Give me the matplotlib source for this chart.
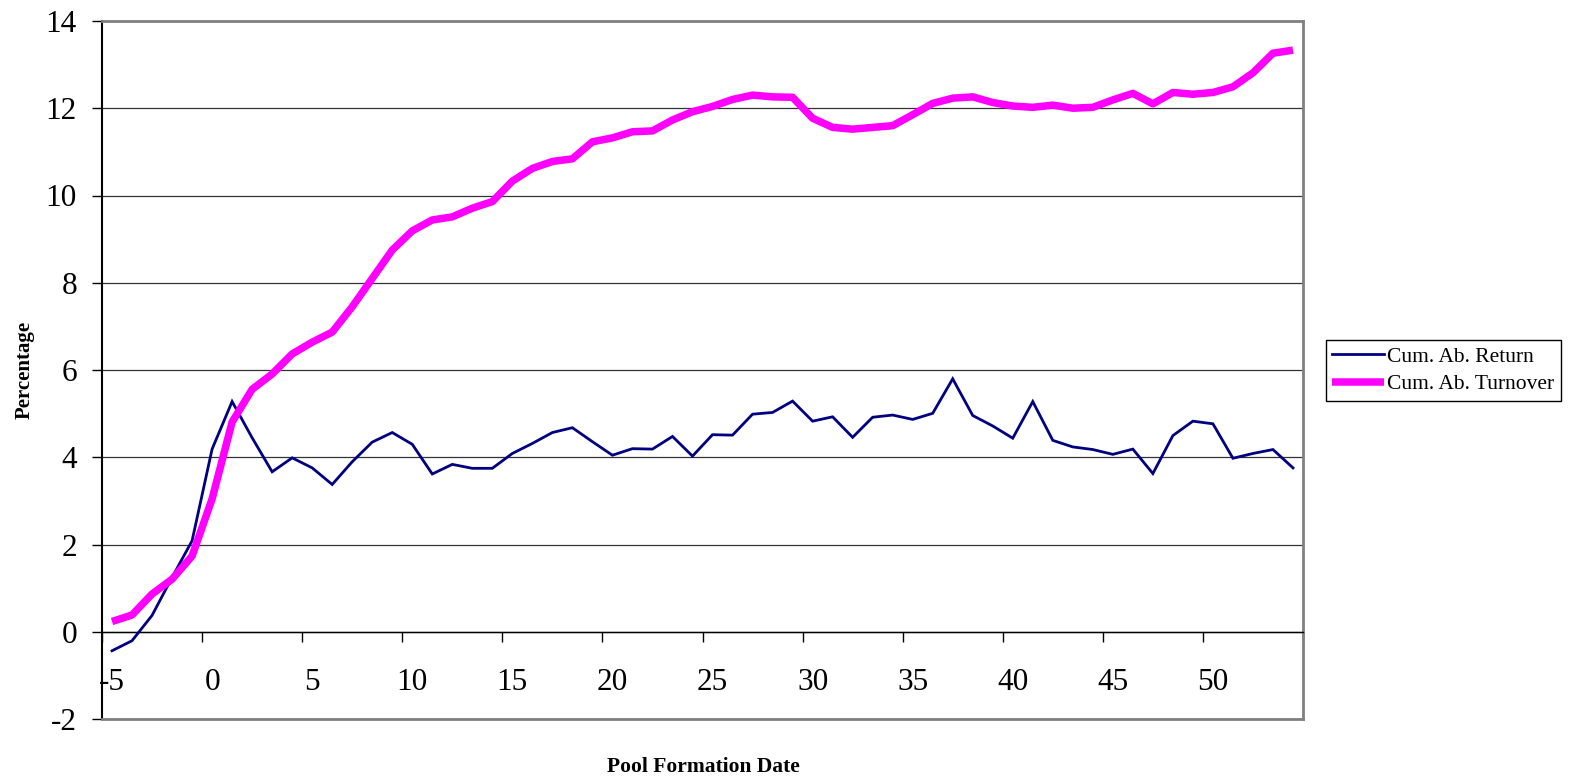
import matplotlib.pyplot as plt
import numpy as np

plt.rcParams['font.family'] = ['Liberation Serif', 'DejaVu Serif']

# event time relative to pool formation
dates = list(range(-5, 55))

cum_ab_return = [
    -0.43, -0.20, 0.38, 1.25, 2.09, 4.19, 5.28, 4.45, 3.67, 3.99,
    3.76, 3.38, 3.90, 4.35, 4.57, 4.30, 3.62, 3.84, 3.75, 3.75,
    4.09, 4.32, 4.57, 4.68, 4.36, 4.05, 4.20, 4.19, 4.48, 4.03,
    4.52, 4.51, 4.99, 5.03, 5.29, 4.83, 4.93, 4.46, 4.92, 4.97,
    4.87, 5.01, 5.80, 4.96, 4.72, 4.44, 5.28, 4.39, 4.24, 4.18,
    4.07, 4.19, 3.63, 4.50, 4.83, 4.77, 3.98, 4.09, 4.18, 3.76,
]

cum_ab_turnover = [
    0.24, 0.39, 0.87, 1.21, 1.74, 3.05, 4.81, 5.56, 5.91, 6.37,
    6.64, 6.87, 7.45, 8.10, 8.75, 9.19, 9.44, 9.51, 9.71, 9.86,
    10.33, 10.62, 10.78, 10.84, 11.23, 11.32, 11.46, 11.48, 11.73, 11.92,
    12.04, 12.20, 12.30, 12.26, 12.25, 11.77, 11.56, 11.52, 11.56, 11.60,
    11.85, 12.11, 12.23, 12.26, 12.13, 12.05, 12.02, 12.07, 12.00, 12.02,
    12.19, 12.34, 12.10, 12.36, 12.32, 12.36, 12.49, 12.81, 13.26, 13.33,
]

x_labels = [-5, 0, 5, 10, 15, 20, 25, 30, 35, 40, 45, 50]
y_ticks = list(range(-2, 15, 2))

W, H = 1570, 781
fig = plt.figure(figsize=(W / 100, H / 100), dpi=100)
ax = fig.add_axes([102 / W, 1 - 719.3 / H, (1303 - 102) / W, (719.3 - 20.9) / H])

ax.plot(dates, cum_ab_return, color='#000080', lw=2.0, label='Cum. Ab. Return',
        solid_joinstyle='miter', zorder=3)
ax.plot(dates, cum_ab_turnover, color='#FF00FF', lw=5.4, label='Cum. Ab. Turnover',
        solid_joinstyle='round', solid_capstyle='butt', zorder=4)

ax.set_xlim(dates[0] - 0.5, dates[-1] + 0.5)
ax.set_ylim(-2, 14)

# category axis crosses the value axis at zero
ax.spines['bottom'].set_position(('data', 0))
ax.spines['bottom'].set_color('black')
ax.spines['bottom'].set_linewidth(1.0)
ax.spines['left'].set_color('black')
ax.spines['left'].set_linewidth(1.5)
for side in ['top', 'right']:
    ax.spines[side].set_color('#808080')
    ax.spines[side].set_linewidth(2.0)
ax.axhline(-2, color='#808080', lw=2.0, clip_on=False, zorder=5)

# tick marks sit between categories, labels on every fifth category
bounds = np.arange(dates[0] - 0.5, dates[-1] + 1, 5)
ax.set_xticks(bounds)
ax.set_xticklabels([])
ax.set_xticks(x_labels, minor=True)
ax.set_xticklabels([str(v) for v in x_labels], minor=True)
ax.tick_params(axis='x', which='major', direction='out', length=7.5, width=1, color='black')
ax.tick_params(axis='x', which='minor', length=0, pad=26, labelsize=22.5)

ax.set_yticks(y_ticks)
ax.set_yticklabels([str(v) for v in y_ticks])
ax.tick_params(axis='y', direction='out', length=7.5, width=1, color='black',
               pad=10.5, labelsize=22.5)

ax.yaxis.grid(True, color='#333333', lw=0.9)
ax.set_axisbelow(True)

fig.text(25 / W, 1 - 370 / H, 'Percentage', rotation=90, ha='center', va='center',
         fontsize=15, fontweight='bold')
fig.text(703 / W, 1 - 767 / H, 'Pool Formation Date', ha='center', va='center',
         fontsize=15.5, fontweight='bold')

leg = fig.legend(loc='center left', bbox_to_anchor=(1326 / W, 1 - 370.5 / H),
                 borderaxespad=0, fontsize=15.5, handlelength=2.4, handletextpad=0.15,
                 borderpad=0.3, labelspacing=0.35, fancybox=False, framealpha=1)
leg.get_frame().set_edgecolor('black')
leg.get_frame().set_linewidth(1.0)

plt.savefig('out.png', dpi=100)
